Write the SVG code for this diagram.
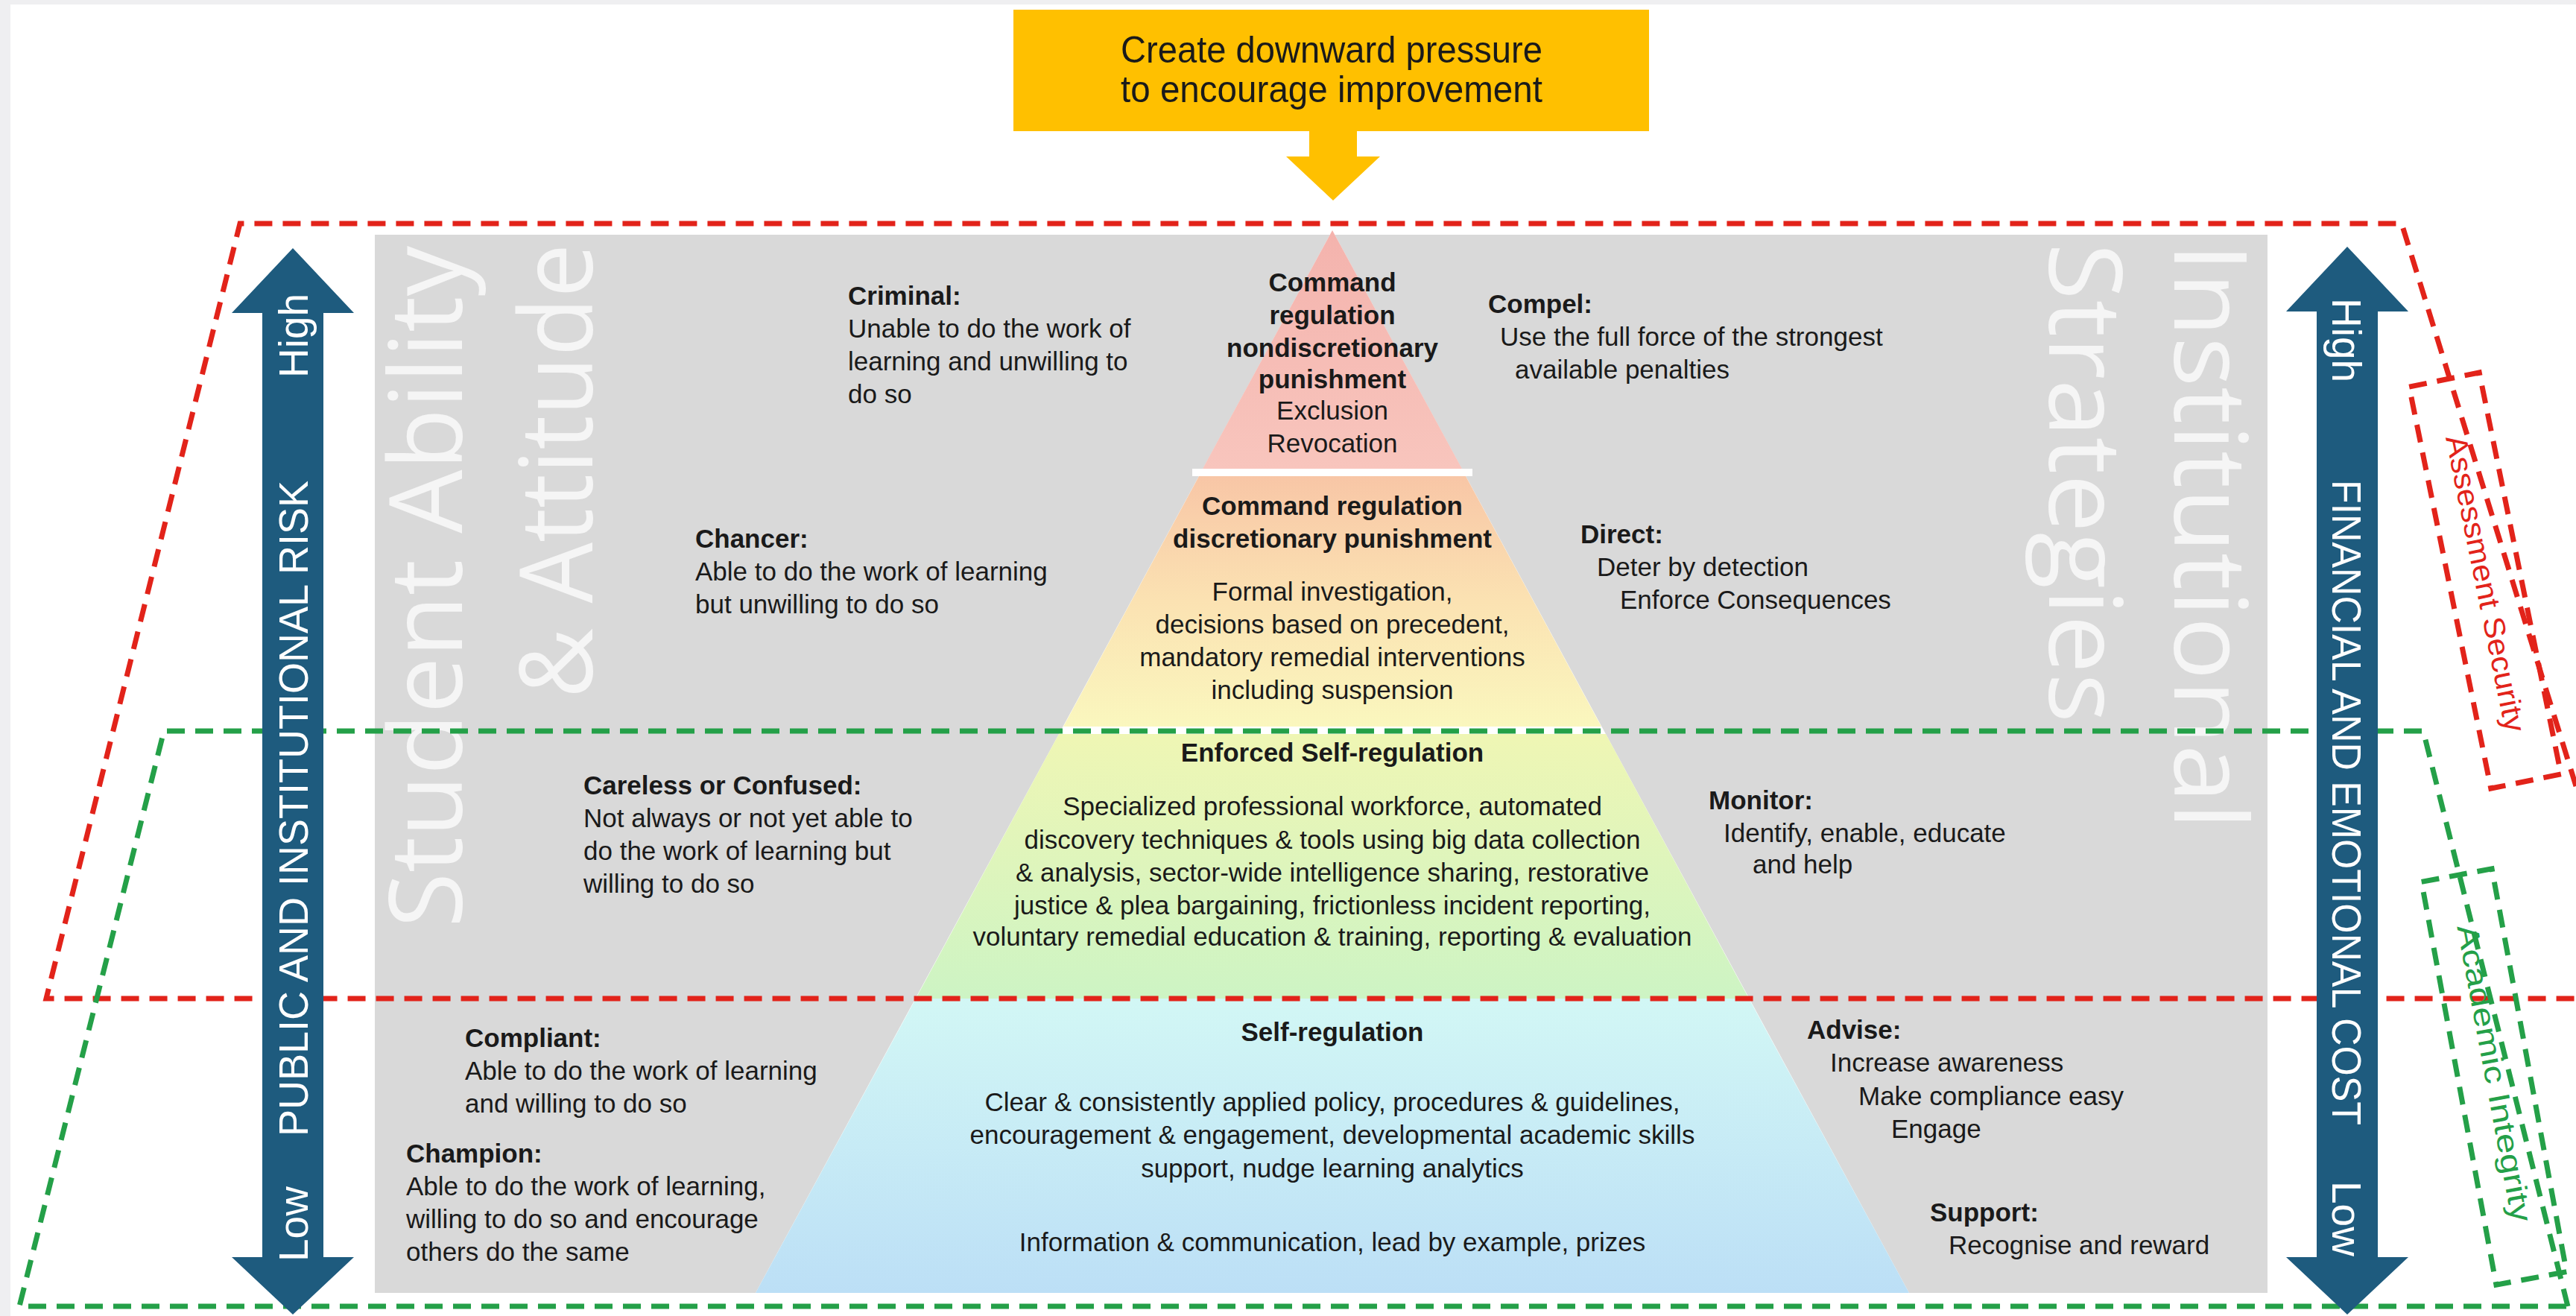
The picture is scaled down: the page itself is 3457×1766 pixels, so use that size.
<svg xmlns="http://www.w3.org/2000/svg" width="3457" height="1766" viewBox="0 0 3457 1766">
<defs>
<linearGradient id="g1" x1="0" y1="0" x2="0" y2="1"><stop offset="0" stop-color="#F4B3AD"/><stop offset="1" stop-color="#F8C5BD"/></linearGradient>
<linearGradient id="g2" x1="0" y1="0" x2="0" y2="1"><stop offset="0" stop-color="#F8C6A6"/><stop offset="0.5" stop-color="#FBE2B2"/><stop offset="1" stop-color="#FAF7BE"/></linearGradient>
<linearGradient id="g3" x1="0" y1="0" x2="0" y2="1"><stop offset="0" stop-color="#EFF6B4"/><stop offset="1" stop-color="#CDF4C4"/></linearGradient>
<linearGradient id="g4" x1="0" y1="0" x2="0" y2="1"><stop offset="0" stop-color="#D2F7F5"/><stop offset="1" stop-color="#BCDFF6"/></linearGradient>
</defs>
<style>
.t{font-family:"Liberation Sans",Arial,sans-serif;font-size:35px;fill:#1a1a1a}
.b{font-weight:bold}
.c{text-anchor:middle}
.big{font-family:"Open Sans",Lato,sans-serif;font-weight:400;font-size:136px;fill:#F5F5F5}
.ax{font-family:"Liberation Sans",Arial,sans-serif;font-size:55px;fill:#ffffff}
.red{fill:none;stroke:#E2231A;stroke-width:7;stroke-dasharray:24 14}
.grn{fill:none;stroke:#24A048;stroke-width:7;stroke-dasharray:24 14}
.arrow{fill:#1E5B7E}
.lbl{font-family:"Liberation Sans",Arial,sans-serif;font-size:40px;text-anchor:middle;dominant-baseline:central}
</style>
<rect x="0" y="0" width="3457" height="1766" fill="#EFEFF1"/>
<rect x="14" y="6" width="3443" height="1760" fill="#FFFFFF"/>

<g id="banner">
<rect x="1360" y="13" width="853" height="163" fill="#FFC000"/>
<path d="M1757,176 L1821,176 L1821,210 L1852,210 L1789,269 L1726,210 L1757,210 Z" fill="#FFC000"/>
<text class="t c" x="1787" y="84" style="font-size:50px" textLength="566" lengthAdjust="spacingAndGlyphs">Create downward pressure</text>
<text class="t c" x="1787" y="137" style="font-size:50px" textLength="566" lengthAdjust="spacingAndGlyphs">to encourage improvement</text>
</g>

<g id="panel">
<rect x="503" y="315" width="2540" height="1420" fill="#D9D9D9"/>
<text class="big" transform="translate(620,1245) rotate(-90)" textLength="915" lengthAdjust="spacingAndGlyphs">Student Ability</text>
<text class="big" transform="translate(795,937) rotate(-90)" textLength="610" lengthAdjust="spacingAndGlyphs">&amp; Attitude</text>
<text class="big" transform="translate(2918,326) rotate(90)" textLength="787" lengthAdjust="spacingAndGlyphs">Institutional</text>
<text class="big" transform="translate(2750,326) rotate(90)" textLength="644" lengthAdjust="spacingAndGlyphs">Strategies</text>
</g>

<g id="pyramid">
<polygon points="1788,309 2562,1735 1014,1735" fill="#FFFFFF"/>
<rect x="1600" y="629" width="376" height="10" fill="#FFFFFF"/>
<polygon points="1788,309 1962,629 1614,629" fill="url(#g1)"/>
<polygon points="1609,639 1967,639 2149,975 1427,975" fill="url(#g2)"/>
<polygon points="1421,985 2155,985 2347,1340 1229,1340" fill="url(#g3)"/>
<polygon points="1229,1340 2347,1340 2562,1735 1014,1735" fill="url(#g4)"/>
</g>

<g id="tier-command-nondiscretionary">
<text class="t b c" x="1788" y="391">Command</text>
<text class="t b c" x="1788" y="435">regulation</text>
<text class="t b c" x="1788" y="479">nondiscretionary</text>
<text class="t b c" x="1788" y="521">punishment</text>
<text class="t c" x="1788" y="563">Exclusion</text>
<text class="t c" x="1788" y="607">Revocation</text>
</g>
<g id="tier-command-discretionary">
<text class="t b c" x="1788" y="691">Command regulation</text>
<text class="t b c" x="1788" y="735">discretionary punishment</text>
<text class="t c" x="1788" y="806">Formal investigation,</text>
<text class="t c" x="1788" y="850">decisions based on precedent,</text>
<text class="t c" x="1788" y="894">mandatory remedial interventions</text>
<text class="t c" x="1788" y="938">including suspension</text>
</g>
<g id="tier-enforced">
<text class="t b c" x="1788" y="1022">Enforced Self-regulation</text>
<text class="t c" x="1788" y="1094">Specialized professional workforce, automated</text>
<text class="t c" x="1788" y="1139">discovery techniques &amp; tools using big data collection</text>
<text class="t c" x="1788" y="1183">&amp; analysis, sector-wide intelligence sharing, restorative</text>
<text class="t c" x="1788" y="1227">justice &amp; plea bargaining, frictionless incident reporting,</text>
<text class="t c" x="1788" y="1269">voluntary remedial education &amp; training, reporting &amp; evaluation</text>
</g>
<g id="tier-self">
<text class="t b c" x="1788" y="1397">Self-regulation</text>
<text class="t c" x="1788" y="1491">Clear &amp; consistently applied policy, procedures &amp; guidelines,</text>
<text class="t c" x="1788" y="1535">encouragement &amp; engagement, developmental academic skills</text>
<text class="t c" x="1788" y="1580">support, nudge learning analytics</text>
<text class="t c" x="1788" y="1679">Information &amp; communication, lead by example, prizes</text>
</g>

<g id="criminal">
<text class="t b" x="1138" y="409">Criminal:</text>
<text class="t" x="1138" y="453">Unable to do the work of</text>
<text class="t" x="1138" y="497">learning and unwilling to</text>
<text class="t" x="1138" y="541">do so</text>
</g>
<g id="chancer">
<text class="t b" x="933" y="735">Chancer:</text>
<text class="t" x="933" y="779">Able to do the work of learning</text>
<text class="t" x="933" y="823">but unwilling to do so</text>
</g>
<g id="careless">
<text class="t b" x="783" y="1066">Careless or Confused:</text>
<text class="t" x="783" y="1110">Not always or not yet able to</text>
<text class="t" x="783" y="1154">do the work of learning but</text>
<text class="t" x="783" y="1198">willing to do so</text>
</g>
<g id="compliant">
<text class="t b" x="624" y="1405">Compliant:</text>
<text class="t" x="624" y="1449">Able to do the work of learning</text>
<text class="t" x="624" y="1493">and willing to do so</text>
</g>
<g id="champion">
<text class="t b" x="545" y="1560">Champion:</text>
<text class="t" x="545" y="1604">Able to do the work of learning,</text>
<text class="t" x="545" y="1648">willing to do so and encourage</text>
<text class="t" x="545" y="1692">others do the same</text>
</g>

<g id="compel">
<text class="t b" x="1997" y="420">Compel:</text>
<text class="t" x="2013" y="464">Use the full force of the strongest</text>
<text class="t" x="2033" y="508">available penalties</text>
</g>
<g id="direct">
<text class="t b" x="2121" y="729">Direct:</text>
<text class="t" x="2143" y="773">Deter by detection</text>
<text class="t" x="2174" y="817">Enforce Consequences</text>
</g>
<g id="monitor">
<text class="t b" x="2293" y="1086">Monitor:</text>
<text class="t" x="2313" y="1130">Identify, enable, educate</text>
<text class="t" x="2352" y="1172">and help</text>
</g>
<g id="advise">
<text class="t b" x="2425" y="1394">Advise:</text>
<text class="t" x="2456" y="1438">Increase awareness</text>
<text class="t" x="2494" y="1483">Make compliance easy</text>
<text class="t" x="2538" y="1527">Engage</text>
</g>
<g id="support">
<text class="t b" x="2590" y="1639">Support:</text>
<text class="t" x="2615" y="1683">Recognise and reward</text>
</g>

<g id="connectors">
<path class="red" d="M3457,1055 L3223,300 L322,300 L62,1340 L3457,1340"/>
<path class="grn" d="M3446,1753 L3252,981 L220,981 L26,1753 Z"/>
</g>

<g id="risk-axis">
<path class="arrow" d="M393,333 L475,420 L434,420 L434,1687 L475,1687 L393,1764 L311,1687 L352,1687 L352,420 L311,420 Z"/>
<text class="ax" transform="translate(413,507) rotate(-90)">High</text>
<text class="ax" transform="translate(413,1525) rotate(-90)" textLength="880" lengthAdjust="spacingAndGlyphs">PUBLIC AND INSTITUTIONAL RISK</text>
<text class="ax" transform="translate(413,1693) rotate(-90)">Low</text>
</g>
<g id="cost-axis">
<path class="arrow" d="M3150,331 L3232,418 L3191,418 L3191,1687 L3232,1687 L3150,1764 L3068,1687 L3109,1687 L3109,418 L3068,418 Z"/>
<text class="ax" transform="translate(3130,400) rotate(90)">High</text>
<text class="ax" transform="translate(3130,644) rotate(90)" textLength="866" lengthAdjust="spacingAndGlyphs">FINANCIAL AND EMOTIONAL COST</text>
<text class="ax" transform="translate(3130,1585) rotate(90)">Low</text>
</g>

<g id="assessment-security">
<rect class="red" x="-48" y="-275" width="96" height="550" transform="translate(3335,779) rotate(-11.5)"/>
<text class="lbl" fill="#E2231A" transform="translate(3336,783) rotate(78.5)" textLength="405" lengthAdjust="spacingAndGlyphs">Assessment Security</text>
</g>
<g id="academic-integrity">
<rect class="grn" x="-48" y="-275" width="96" height="550" transform="translate(3347,1445) rotate(-10.5)"/>
<text class="lbl" fill="#24A048" transform="translate(3348,1440) rotate(79.5)" textLength="405" lengthAdjust="spacingAndGlyphs">Academic Integrity</text>
</g>
</svg>
